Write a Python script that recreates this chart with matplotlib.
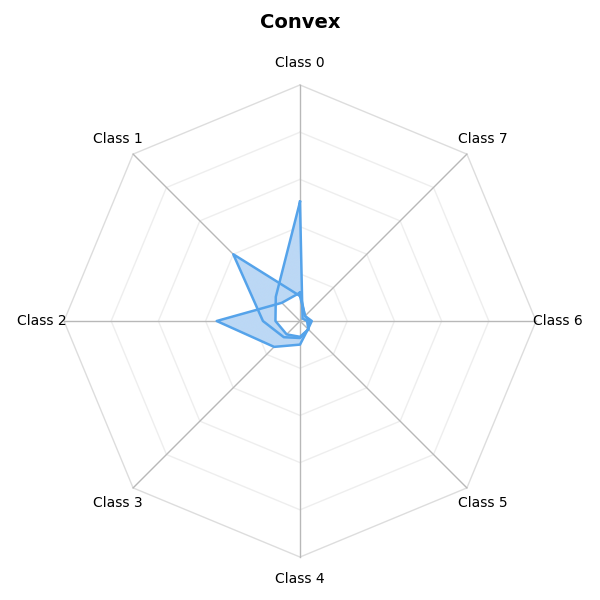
import numpy as np
import matplotlib
matplotlib.use("Agg")
import matplotlib.pyplot as plt
from matplotlib.path import Path
from matplotlib.colors import ListedColormap

labels = ["Class 0", "Class 1", "Class 2", "Class 3",
          "Class 4", "Class 5", "Class 6", "Class 7"]

# one profile per peaked class, values on a 0-1 scale (outer ring = 1)
peak_class0 = [0.505, 0.145, 0.104, 0.080, 0.067, 0.050, 0.030, 0.015]
peak_class1 = [0.106, 0.400, 0.157, 0.097, 0.072, 0.050, 0.040, 0.030]
peak_class2 = [0.120, 0.109, 0.353, 0.155, 0.100, 0.048, 0.050, 0.030]
series = [peak_class0, peak_class1, peak_class2]

ring_levels = [0.2, 0.4, 0.6, 0.8, 1.0]

n = len(labels)
theta = np.arange(n) * 2 * np.pi / n   # counter-clockwise, class 0 on top
ux, uy = -np.sin(theta), np.cos(theta)

fig = plt.figure(figsize=(6, 6), dpi=100)
ax = fig.add_axes([0, 0, 1, 1])

# octagon grid
for lev in ring_levels:
    col = '#dddddd' if lev == 1.0 else '#eeeeee'
    ax.plot(np.append(ux, ux[0]) * lev, np.append(uy, uy[0]) * lev,
            color=col, lw=1, zorder=1)
for x, y in zip(ux, uy):
    ax.plot([0, x], [0, y], color='#b8b8b8', lw=1, zorder=2)
for x, y, lab in zip(ux, uy, labels):
    ax.text(1.093 * x, 1.093 * y, lab, ha='center', va='center', fontsize=10)

loops = []
for vals in series:
    r = np.append(vals, vals[0])
    loops.append(np.column_stack([r * np.append(ux, ux[0]),
                                  r * np.append(uy, uy[0])]))

# shaded area: covered by the profiles, minus what all of them share
g = np.linspace(-0.6, 0.6, 1401)
gx, gy = np.meshgrid(g, g)
pts = np.column_stack([gx.ravel(), gy.ravel()])
count = sum(Path(l).contains_points(pts).astype(int) for l in loops)
count = count.reshape(gx.shape)
mask = ((count >= 1) & (count < len(loops))).astype(float)
cmap = ListedColormap([(1, 1, 1, 0), '#bcd8f5'])
ax.imshow(mask, extent=(-0.6, 0.6, -0.6, 0.6), origin='lower', cmap=cmap,
          vmin=0, vmax=1, interpolation='antialiased', zorder=3)

for l in loops:
    ax.plot(l[:, 0], l[:, 1], color='#55a3ea', lw=1.8, zorder=4)

ax.set_xlim(-1.271, 1.271)
ax.set_ylim(-1.182, 1.360)
ax.set_aspect('equal')
ax.axis('off')

fig.text(0.5, 1 - 22 / 600, "Convex", ha='center', va='center',
         fontsize=14, fontweight='bold')

fig.savefig("out.png", dpi=100)
